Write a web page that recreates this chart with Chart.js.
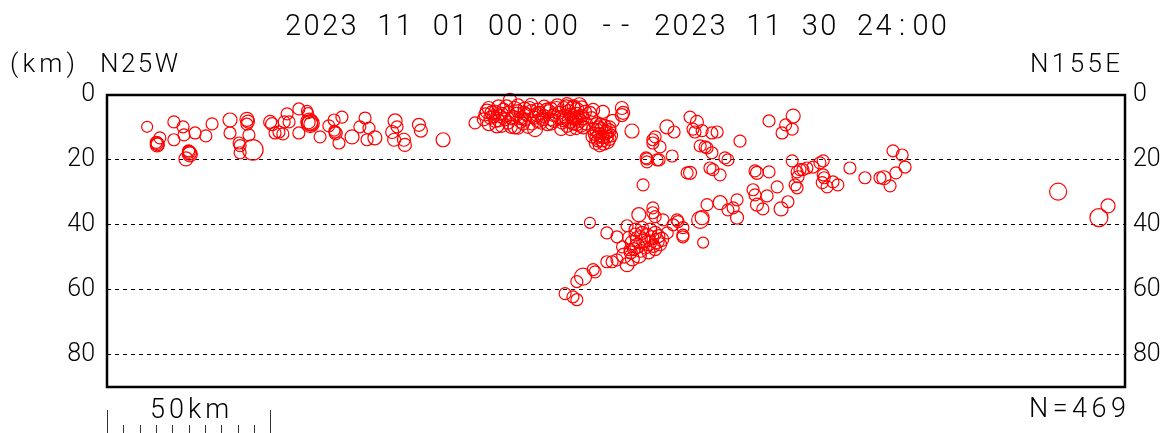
<!DOCTYPE html>
<html lang="ja">
<head>
  <meta charset="UTF-8">
  <title>Hypocenter cross section</title>
  <script src="https://cdn.jsdelivr.net/npm/chart.js@4"></script>
  <style>
    body {
      margin: 0;
      background-color: #fff;
    }
    canvas {
      display: block;
    }
  </style>
</head>
<body>
  <canvas id="chart" width="1173" height="433"></canvas>

  <script>
    // period and profile ends
    const periodText = "2023 11 01 00:00 -- 2023 11 30 24:00";
    const leftEnd = "N25W";
    const rightEnd = "N155E";
    const countText = "N=469";
    const depthTicks = [0, 20, 40, 60, 80];

    // events: [distance along profile (km), depth (km), magnitude]
    const westEvents = [
      [12.3, 9.8, 1.6], [15.3, 14.8, 2], [15.5, 15.2, 2], [15.1, 14.6, 1.8], [15.4, 15.4, 2.2],
      [16.2, 13.2, 1.8], [20.5, 8.3, 1.8], [23.3, 9.8, 1.8], [23.6, 12.3, 1.8], [20.5, 13.8, 1.8],
      [25.1, 17.5, 2], [25.3, 17.9, 2.2], [25.0, 17.2, 1.8], [25.4, 18.3, 2.4], [24.2, 19.7, 2.2],
      [27.0, 11.7, 1.8], [30.3, 12.6, 1.8], [32.2, 8.9, 1.8], [37.7, 7.7, 2.2], [37.7, 11.7, 1.8],
      [42.9, 7.5, 2.2], [43.2, 8.2, 2], [42.9, 9.0, 1.8], [43.5, 12.3, 1.8], [40.5, 14.8, 1.8],
      [40.8, 15.6, 1.8], [40.8, 17.8, 1.8], [44.7, 16.9, 3.5], [50.0, 8.3, 2], [50.6, 9.0, 2],
      [51.5, 11.7, 1.8], [52.7, 11.4, 1.8], [53.9, 12.0, 1.8], [55.2, 5.8, 1.8], [55.8, 8.3, 1.8],
      [54.3, 8.3, 1.8], [58.8, 4.3, 1.8], [61.3, 4.9, 1.6], [61.6, 5.6, 1.6], [62.2, 8.6, 2.5],
      [62.0, 8.2, 2.8], [62.5, 9.0, 2.2], [62.3, 8.8, 3], [61.8, 8.4, 2], [58.8, 11.7, 1.8],
      [65.3, 12.9, 1.8], [68.0, 9.5, 1.8], [69.6, 7.7, 1.8], [72.0, 6.8, 1.8], [69.9, 11.4, 1.8],
      [70.1, 11.8, 2], [69.7, 11.0, 1.6], [71.1, 14.8, 1.8], [75.1, 12.9, 2.2], [77.5, 9.8, 1.8],
      [79.1, 7.1, 1.8], [80.3, 10.2, 1.8], [79.7, 13.8, 1.8], [82.1, 13.2, 2.2], [87.4, 11.4, 2],
      [88.0, 13.8, 2], [88.3, 8.0, 2.2], [88.9, 9.8, 1.8], [91.0, 13.8, 2], [91.3, 15.4, 2],
      [95.6, 9.2, 2], [96.2, 11.0, 2], [103.0, 13.8, 2.2]
    ];

    const centralEvents = [
      [112.8, 8.6, 1.8], [123.5, 1.5, 2], [117, 4, 2], [120, 3.5, 2], [126, 3.2, 2],
      [130, 3, 2], [134, 3.6, 2], [138, 3.2, 2], [141, 2.8, 2], [143, 3.5, 2],
      [145.5, 3.8, 2], [116, 6, 2], [117.5, 7, 2], [119, 5.2, 2], [120.5, 6.5, 2],
      [122, 7.5, 2], [123, 5.5, 2], [124.5, 6.8, 2], [126, 5, 2], [127, 7.2, 2],
      [128.5, 6, 2], [130, 5, 2], [131, 7, 2], [132.5, 5.5, 2], [134, 6.5, 2],
      [135.5, 5, 2], [137, 6.2, 2], [138.5, 5.5, 2], [140, 6.5, 2], [141.5, 5, 2],
      [142.5, 7, 2], [144, 5.8, 2], [145.5, 6.5, 2], [146.5, 5.2, 2], [117, 9, 2],
      [119, 8, 2], [121, 9.5, 2], [123, 8.5, 2], [125, 9.8, 2.2], [127.5, 8.8, 2],
      [129, 9.8, 2], [131.2, 10.5, 2.4], [126, 10.2, 1.8], [133, 8.5, 2], [135, 9, 2],
      [137, 8, 2], [139.5, 8.5, 2], [141, 9.5, 2], [142, 10.5, 2], [144, 9, 2],
      [145, 8, 2], [146, 10, 2], [118, 5.5, 2.2], [121.5, 4.5, 2], [125, 4, 2],
      [128, 4.2, 2], [132, 4.5, 2], [136, 4.2, 2], [140, 4, 2], [144, 4.5, 2.2],
      [120, 7.8, 2], [124, 7.2, 2], [128, 7.5, 2], [132, 8, 2], [136, 7.5, 2],
      [140, 7.8, 2], [143.5, 7.5, 2],
      [115.5, 7.5, 2], [116.5, 5, 2.2], [118.5, 6.5, 2], [119.5, 9.5, 2.2], [121, 5.8, 2],
      [122.5, 3.5, 2], [123.8, 9.8, 2], [125.5, 6, 2.2], [126.8, 8.2, 2], [127.8, 5.5, 2],
      [129.5, 4, 2], [130.2, 8.8, 2], [131.8, 6, 2.2], [133.5, 7.5, 2], [134.8, 4.5, 2],
      [136.2, 8.8, 2], [137.8, 4, 2], [139, 7, 2.2], [140.8, 3.5, 2], [142, 6, 2],
      [143, 8.8, 2], [144.8, 3, 2.2], [145.8, 7.2, 2], [146.8, 8.8, 2], [139.2, 10.5, 2],
      [142.8, 4.2, 2.4], [141.8, 8, 2.4], [144.2, 6.8, 2.2], [145.2, 9.5, 2], [143.8, 10.2, 2],
      [149, 4.6, 2], [152, 5.2, 2], [148.5, 7, 1.8], [150, 9, 2], [151.5, 10.5, 2],
      [153, 11.5, 2.2], [149.5, 12, 2], [152, 13, 2], [150.5, 14, 2], [153.5, 14.5, 2],
      [151, 15.5, 2], [154.5, 12.5, 2], [152.5, 9.5, 2], [149, 10.5, 2], [154, 10, 2],
      [151, 12.2, 2.2], [152.8, 11.8, 2], [150, 13.2, 2], [155, 8, 2], [148, 5.5, 2],
      [150.2, 11, 2.2], [151.8, 13.8, 2.2], [153.2, 12.8, 2], [150.8, 10, 2], [152.2, 15, 2],
      [149.8, 14.8, 2], [154, 13.5, 2], [153.8, 11, 2.2], [151.2, 9.2, 2], [148.8, 12.8, 2],
      [157.8, 4, 2], [158.2, 5.5, 2], [157.8, 6.2, 2], [160.9, 11.1, 2.2]
    ];

    const eastEvents = [
      [167.3, 13.8, 1.8], [168, 12.9, 1.8], [165.5, 19.7, 1.8], [168.6, 20, 1.8], [167.3, 14.8, 1.8],
      [169.5, 16, 1.8], [165.2, 19.4, 1.8], [165.5, 20.6, 1.8], [169.2, 20, 1.8], [173.2, 18.8, 1.8],
      [181.8, 15.7, 1.8], [183.3, 16, 1.8], [185.4, 17.8, 1.8], [189.4, 19.4, 1.8], [190.3, 20, 1.8],
      [177.8, 24, 1.8], [178.7, 24, 2], [184.8, 22.5, 1.8], [185.7, 23, 1.8], [187.9, 24.6, 1.8],
      [164.3, 27.7, 1.8], [171.6, 9.8, 2.2], [173.8, 11.4, 1.8], [178.7, 6.8, 1.8], [180.8, 8.3, 2],
      [179.6, 10.5, 1.8], [180.2, 11.4, 1.8], [182.4, 11, 1.8], [185.4, 11.7, 1.8], [187, 11.4, 1.8],
      [183.9, 16.3, 1.8], [194, 14.2, 1.8], [202.9, 8, 1.8], [208, 9.2, 1.8], [210.3, 6.5, 2.2],
      [210, 10.5, 1.8], [206.9, 11.7, 1.8], [198.6, 23.4, 1.8], [199.2, 24, 2], [202.9, 23.7, 1.8],
      [198, 29.2, 1.8], [198.6, 30.8, 1.8], [202.3, 31.1, 1.8], [205.4, 28.3, 1.8], [199.2, 33.8, 2],
      [201, 35.1, 1.8], [206.6, 35.1, 2.2], [208.7, 32.9, 1.8], [210, 20.3, 1.8], [211.5, 23.7, 1.8],
      [212.4, 23, 1.8], [211.8, 25.2, 1.8], [210.9, 27.7, 1.8], [211.5, 28.6, 1.8], [213.3, 23, 1.8],
      [214.5, 22.5, 1.8], [216.4, 22.2, 1.8], [218.5, 20.9, 1.8], [219.5, 20.3, 1.8], [219.5, 24.6, 1.8],
      [219.8, 25.5, 1.8], [219.2, 27, 1.8], [220.7, 28.3, 1.8], [222.5, 26.8, 1.8], [224, 27.7, 1.8],
      [227.7, 22.5, 1.8], [232.3, 25.5, 1.8], [236.9, 25.5, 1.8], [240.9, 17.2, 1.8], [243.7, 18.5, 1.8],
      [244.6, 22.2, 1.8], [241.8, 24, 1.8], [238.1, 25.5, 2.2], [240, 28, 1.8], [291.5, 29.8, 2.8],
      [306.8, 34.2, 2.2], [304, 37.8, 3]
    ];

    const deepEvents = [
      [148, 39.4, 1.6], [163, 36.9, 2.2], [167.3, 34.8, 1.8], [167.3, 36.3, 1.8], [168, 37.5, 1.8],
      [170.4, 38.5, 1.8], [174.7, 38.5, 1.8], [175, 39, 1.8], [173.5, 40, 1.8], [176.5, 40.9, 1.8],
      [176.5, 43.7, 1.8], [181.8, 38.5, 2.8], [182.4, 37.8, 2.2], [183.9, 33.8, 1.8], [187.9, 33.2, 2.2],
      [190.3, 35.4, 1.8], [191.9, 34.8, 1.8], [193.1, 32.3, 1.8], [193.1, 37.8, 2], [182.7, 45.5, 1.6],
      [153.2, 42.5, 1.8], [156.3, 43.7, 1.8], [159.4, 40.3, 1.8], [160, 44, 2], [161, 45.5, 2.2],
      [162, 43, 2], [162.5, 46.5, 2.4], [163, 44.5, 2.8], [163.5, 48, 2], [164, 42.5, 2],
      [164.5, 45, 2.2], [165, 47, 2], [165.5, 43.5, 2.4], [166, 45.5, 2.6], [166.5, 41.5, 2],
      [167, 44, 2.2], [167.5, 46.5, 2], [168, 42.5, 2], [168.5, 45, 2.4], [169, 43.5, 2],
      [169.5, 46, 2], [170, 44.5, 2.2], [161.5, 47.5, 2], [163, 49.5, 2.4], [160.5, 48.5, 2],
      [166, 48.5, 2], [168, 47.5, 2], [164, 41, 2], [162, 41.5, 2], [171.7, 42.5, 1.8],
      [176.5, 43.2, 1.8], [158, 46.8, 1.8], [160.3, 47.7, 1.8], [158.5, 49.5, 2.4], [161, 50.5, 2.2],
      [153.2, 51.4, 1.8], [154.8, 51.4, 1.8], [156.3, 50.8, 1.8], [159.4, 52.3, 2.2], [149, 53.8, 1.8],
      [149.6, 54.5, 1.8], [145.9, 56, 2.8], [144, 57.5, 1.8], [140.4, 61.2, 1.8], [142.8, 62.2, 1.8],
      [144, 63.1, 1.8]
    ];

    const events = [...westEvents, ...centralEvents, ...eastEvents, ...deepEvents];

    const FONT = "Roboto, 'DejaVu Sans', sans-serif";

    // text with a fixed character pitch, like the plotter font of the original
    function pitchText(c, str, x, y, pitch, align) {
      let start = x;
      if (align === "center") start = x - (str.length * pitch) / 2;
      if (align === "right") start = x - str.length * pitch;
      c.textAlign = "center";
      for (let i = 0; i < str.length; i++) {
        c.fillText(str[i], start + pitch * (i + 0.5), y);
      }
    }

    // text spread out so it runs from left to right
    function spreadText(c, str, left, right, y) {
      const widths = [...str].map((ch) => c.measureText(ch).width);
      const total = widths.reduce((a, b) => a + b, 0);
      const gap = str.length > 1 ? (right - left - total) / (str.length - 1) : 0;
      c.textAlign = "left";
      let x = left;
      for (let i = 0; i < str.length; i++) {
        c.fillText(str[i], x, y);
        x += widths[i] + gap;
      }
    }

    const decorations = {
      id: "decorations",
      afterDraw(chart) {
        const c = chart.ctx;
        const area = chart.chartArea;
        const xs = chart.scales.x;
        c.save();

        // frame
        c.strokeStyle = "#000";
        c.lineWidth = 2.5;
        c.strokeRect(area.left, area.top, area.right - area.left, area.bottom - area.top);

        c.fillStyle = "#000";
        c.textBaseline = "alphabetic";
        c.font = "300 29px " + FONT;
        pitchText(c, periodText, (area.left + area.right) / 2, 35, 18.45, "center");

        c.font = "300 26px " + FONT;
        spreadText(c, "(km)", 10, 75, 72);
        spreadText(c, leftEnd, 100, 178, 72);
        spreadText(c, rightEnd, 1030, 1120, 72);

        c.font = "300 27px " + FONT;
        spreadText(c, countText, 1029, 1126, 417);

        // 50 km scale bar
        const x0 = xs.getPixelForValue(0);
        const x50 = xs.getPixelForValue(50);
        spreadText(c, "50km", x0 + 43, x50 - 41, 418);
        c.strokeStyle = "#333";
        c.lineWidth = 1;
        for (let km = 0; km <= 50; km += 5) {
          const px = Math.round(xs.getPixelForValue(km)) + 0.5;
          const top = km === 0 || km === 50 ? 410 : 425;
          c.beginPath();
          c.moveTo(px, top);
          c.lineTo(px, 433);
          c.stroke();
        }
        c.restore();
      }
    };

    const tickFont = { family: "Roboto, 'DejaVu Sans', sans-serif", size: 25, weight: 300 };

    const ctx = document.getElementById("chart").getContext("2d");
    new Chart(ctx, {
      type: "scatter",
      data: {
        datasets: [
          {
            data: events.map((e) => ({ x: e[0], y: e[1] })),
            pointRadius: (cx) => 1.5 + 2.5 * events[cx.dataIndex][2],
            pointStyle: "circle",
            borderColor: "#ff0000",
            backgroundColor: "rgba(0,0,0,0)",
            borderWidth: 1.2,
            clip: false,
          },
        ],
      },
      options: {
        responsive: false,
        animation: false,
        events: [],
        layout: { padding: { top: 95, bottom: 46, left: 0, right: 0 } },
        plugins: {
          legend: { display: false },
          tooltip: { enabled: false },
        },
        scales: {
          x: { type: "linear", min: 0, max: 312, display: false },
          y: {
            min: 0,
            max: 90,
            reverse: true,
            afterFit: (s) => { s.width = 107; },
            afterBuildTicks: (s) => { s.ticks = depthTicks.map((v) => ({ value: v })); },
            ticks: { padding: 12, color: "#000", font: tickFont },
            grid: {
              color: (c) => (c.tick && c.tick.value === 0 ? "rgba(0,0,0,0)" : "#000"),
              lineWidth: 1,
              drawTicks: false,
            },
            border: { display: false, dash: [4, 4] },
          },
          y2: {
            position: "right",
            min: 0,
            max: 90,
            reverse: true,
            afterFit: (s) => { s.width = 48; },
            afterBuildTicks: (s) => { s.ticks = depthTicks.map((v) => ({ value: v })); },
            ticks: { padding: 8, color: "#000", font: tickFont },
            grid: { drawOnChartArea: false, drawTicks: false },
            border: { display: false },
          },
        },
      },
      plugins: [decorations],
    });
  </script>
</body>
</html>
